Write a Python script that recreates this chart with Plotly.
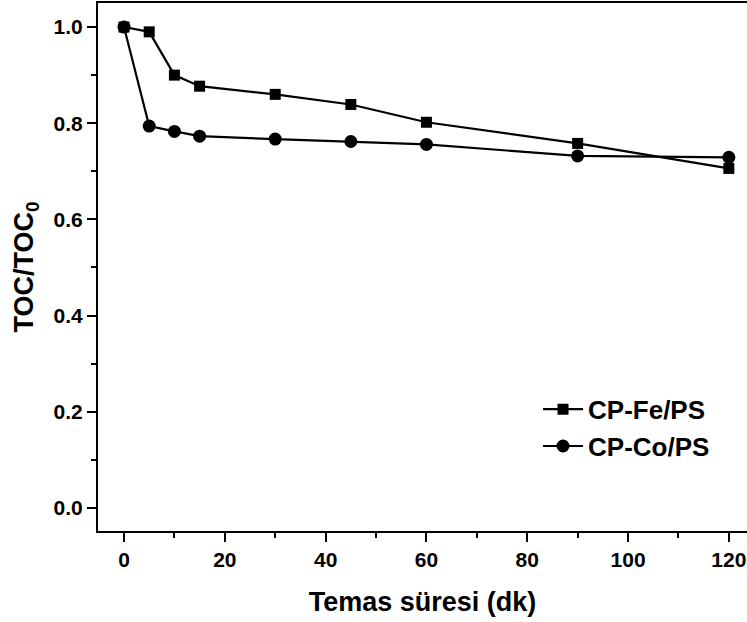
import plotly.graph_objects as go

time_min = [0, 5, 10, 15, 30, 45, 60, 90, 120]
fe_ps = [1.0, 0.990, 0.900, 0.877, 0.860, 0.839, 0.802, 0.758, 0.706]
co_ps = [1.0, 0.794, 0.783, 0.773, 0.767, 0.762, 0.756, 0.732, 0.729]
x_ticks = [0, 20, 40, 60, 80, 100, 120]
y_ticks = [0.0, 0.2, 0.4, 0.6, 0.8, 1.0]

fig = go.Figure()
fig.add_trace(go.Scatter(x=time_min, y=fe_ps, mode="lines+markers", name="CP-Fe/PS",
                         line=dict(color="black", width=2.2),
                         marker=dict(symbol="square", size=11, color="black")))
fig.add_trace(go.Scatter(x=time_min, y=co_ps, mode="lines+markers", name="CP-Co/PS",
                         line=dict(color="black", width=2.2),
                         marker=dict(symbol="circle", size=13, color="black")))

font_family = "Liberation Sans, Arial, sans-serif"
fig.update_layout(
    width=747, height=622,
    margin=dict(l=98, r=0, t=3, b=91),
    plot_bgcolor="white", paper_bgcolor="white",
    font=dict(family=font_family, color="black"),
    showlegend=True,
    legend=dict(x=0.678, y=0.275, xanchor="left", yanchor="top",
                bgcolor="rgba(0,0,0,0)",
                font=dict(size=26, family=font_family, color="black", weight="bold"),
                tracegroupgap=0, itemwidth=40),
    xaxis=dict(range=[-5.16, 123.6], tickvals=x_ticks, ticktext=[str(v) for v in x_ticks],
               showgrid=False, zeroline=False, showline=True, linecolor="black", linewidth=2,
               mirror=True, ticks="outside", ticklen=9, tickwidth=2, tickcolor="black",
               tickfont=dict(size=21, weight="bold"),
               minor=dict(dtick=10, tick0=0, ticks="outside", ticklen=5, tickwidth=2, tickcolor="black"),
               title=dict(text="Temas süresi (dk)", font=dict(size=27, weight="bold"), standoff=22)),
    yaxis=dict(range=[-0.048, 1.05], tickvals=y_ticks, ticktext=[f"{v:.1f}" for v in y_ticks],
               showgrid=False, zeroline=False, showline=True, linecolor="black", linewidth=2,
               mirror=False, ticks="outside", ticklen=9, tickwidth=2, tickcolor="black",
               tickfont=dict(size=21, weight="bold"),
               minor=dict(dtick=0.1, tick0=0, ticks="outside", ticklen=5, tickwidth=2, tickcolor="black"),
               title=dict(text="TOC/TOC<sub>0</sub>", font=dict(size=27, weight="bold"), standoff=12)),
)

fig.write_html("out.html", config={"displayModeBar": False},
               post_script="document.body.style.margin='0';document.body.style.overflow='hidden';")
